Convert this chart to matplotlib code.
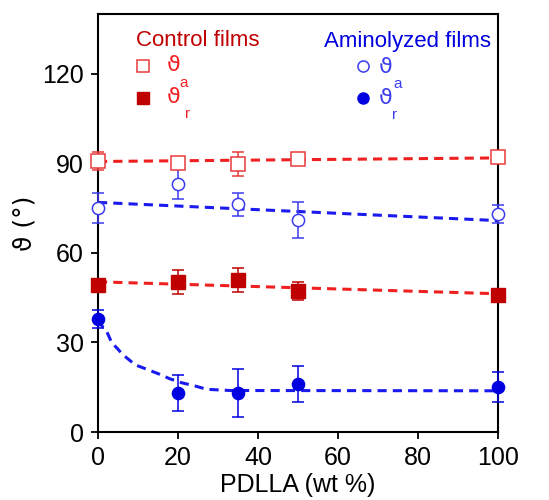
import matplotlib
matplotlib.use('Agg')
import matplotlib.pyplot as plt
import numpy as np

plt.rcParams['font.family'] = ['Liberation Sans', 'DejaVu Sans']
plt.rcParams['mathtext.fontset'] = 'dejavusans'

# contenido de PDLLA (wt %)
pdlla = [0, 20, 35, 50, 100]

# films control
ctrl_a = [90.9, 90.1, 89.9, 91.6, 92.0]
ctrl_a_err = [3.0, 1.0, 4.0, 1.5, 0.5]
ctrl_r = [49.3, 50.2, 51.0, 47.1, 46.0]
ctrl_r_err = [1.0, 4.0, 4.0, 3.0, 0.5]

# films aminolizados
amin_a = [75.0, 83.0, 76.2, 70.9, 73.0]
amin_a_err = [5.0, 5.0, 4.0, 6.0, 3.0]
amin_r = [37.9, 13.0, 13.0, 16.1, 15.0]
amin_r_err = [3.0, 6.0, 8.0, 6.0, 5.0]

# curvas de ajuste
fit_x_lin = [0, 100]
fit_ctrl_a = [90.6, 91.8]
fit_ctrl_r = [50.3, 46.3]
fit_amin_a = [76.9, 70.8]
fit_amin_r_x = [0, 1, 2.2, 3.4, 4.8, 6.3, 9.3, 12.6, 15.1, 18, 20.9, 24.3, 27.2, 33, 100]
fit_amin_r = [37.5, 35.5, 33.6, 30.0, 28.0, 25.8, 22.5, 20.8, 19.5, 17.8, 16.5, 15.4, 14.3, 13.9, 13.8]

RED_LIGHT = '#e83a3a'
RED_DARK = '#c00000'
RED_LINE = '#f02020'
BLUE_LIGHT = '#3c3cf0'
BLUE_DARK = '#0000e0'
BLUE_LINE = '#1a1af0'

W, H = 549, 500
fig = plt.figure(figsize=(W / 100, H / 100), dpi=100)
ax = fig.add_axes([98 / W, 1 - 432 / H, 400 / W, 418 / H])

# lineas de ajuste
ax.plot(fit_x_lin, fit_ctrl_a, color=RED_LINE, lw=2.2, dashes=(3, 2), zorder=2, clip_on=False)
ax.plot(fit_x_lin, fit_ctrl_r, color=RED_LINE, lw=2.2, dashes=(3, 2), zorder=2, clip_on=False)
ax.plot(fit_x_lin, fit_amin_a, color=BLUE_LINE, lw=2.2, dashes=(3, 2), zorder=2, clip_on=False)
ax.plot(fit_amin_r_x, fit_amin_r, color=BLUE_LINE, lw=2.2, dashes=(3, 2), zorder=2, clip_on=False)

# puntos con barras de error
ms_sq = 9.5
ms_ci = 8.8
ax.errorbar(pdlla, ctrl_a, yerr=ctrl_a_err, fmt='s', ms=ms_sq, mfc='white', mec=RED_LIGHT,
            mew=1.1, ecolor=RED_LIGHT, elinewidth=1.1, capsize=4.5, capthick=1.1,
            zorder=4, clip_on=False)
ax.errorbar(pdlla, ctrl_r, yerr=ctrl_r_err, fmt='s', ms=ms_sq, mfc=RED_DARK, mec=RED_DARK,
            ecolor=RED_DARK, elinewidth=1.1, capsize=4.5, capthick=1.1,
            zorder=4, clip_on=False)
ax.errorbar(pdlla, amin_a, yerr=amin_a_err, fmt='o', ms=ms_ci, mfc='white', mec=BLUE_LIGHT,
            mew=1.1, ecolor=BLUE_LIGHT, elinewidth=1.1, capsize=4.5, capthick=1.1,
            zorder=4, clip_on=False)
ax.errorbar(pdlla, amin_r, yerr=amin_r_err, fmt='o', ms=ms_ci, mfc=BLUE_DARK, mec=BLUE_DARK,
            ecolor=BLUE_DARK, elinewidth=1.1, capsize=4.5, capthick=1.1,
            zorder=4, clip_on=False)

ax.set_xlim(0, 100)
ax.set_ylim(0, 140)
ax.set_xticks([0, 20, 40, 60, 80, 100])
ax.set_yticks([0, 30, 60, 90, 120])
ax.tick_params(axis='both', direction='out', length=5, width=1.3, labelsize=18)
ax.tick_params(axis='x', pad=5)
ax.tick_params(axis='y', pad=5)
for s in ax.spines.values():
    s.set_linewidth(1.5)

ax.set_xlabel('PDLLA (wt %)', fontsize=18, labelpad=2)
ax.set_ylabel('ϑ (°)', fontsize=18, labelpad=4, family=['DejaVu Sans'])


# leyenda manual, posiciones en pixeles de la figura
def px(x, y):
    return x / W, 1 - y / H


fig.text(*px(198, 40), 'Control films', color=RED_DARK, fontsize=16, ha='center', va='center')
fig.text(*px(408, 42), 'Aminolyzed films', color=BLUE_DARK, fontsize=16, ha='center', va='center')

fig.add_artist(plt.Line2D([143 / W], [1 - 66 / H], marker='s', ms=8, mfc='white',
                          mec=RED_LIGHT, mew=1.1, transform=fig.transFigure))
fig.add_artist(plt.Line2D([143 / W], [1 - 98 / H], marker='s', ms=8, mfc=RED_DARK,
                          mec=RED_DARK, transform=fig.transFigure))
fig.add_artist(plt.Line2D([363 / W], [1 - 66 / H], marker='o', ms=8, mfc='white',
                          mec=BLUE_LIGHT, mew=1.1, transform=fig.transFigure))
fig.add_artist(plt.Line2D([363 / W], [1 - 98 / H], marker='o', ms=8, mfc=BLUE_DARK,
                          mec=BLUE_DARK, transform=fig.transFigure))

sym = ['DejaVu Sans']
fig.text(*px(174, 71), 'ϑ', color=RED_LINE, fontsize=16, ha='center', va='baseline', family=sym)
fig.text(*px(184, 83), 'a', color=RED_LINE, fontsize=11, ha='center', va='center')
fig.text(*px(174, 103), 'ϑ', color=RED_LINE, fontsize=16, ha='center', va='baseline', family=sym)
fig.text(*px(188, 114), 'r', color=RED_LINE, fontsize=11, ha='center', va='center')
fig.text(*px(386, 73), 'ϑ', color=BLUE_LIGHT, fontsize=16, ha='center', va='baseline', family=sym)
fig.text(*px(398, 84), 'a', color=BLUE_LIGHT, fontsize=11, ha='center', va='center')
fig.text(*px(386, 104), 'ϑ', color=BLUE_LIGHT, fontsize=16, ha='center', va='baseline', family=sym)
fig.text(*px(395, 115), 'r', color=BLUE_LIGHT, fontsize=11, ha='center', va='center')

fig.savefig('out.png', dpi=100)
